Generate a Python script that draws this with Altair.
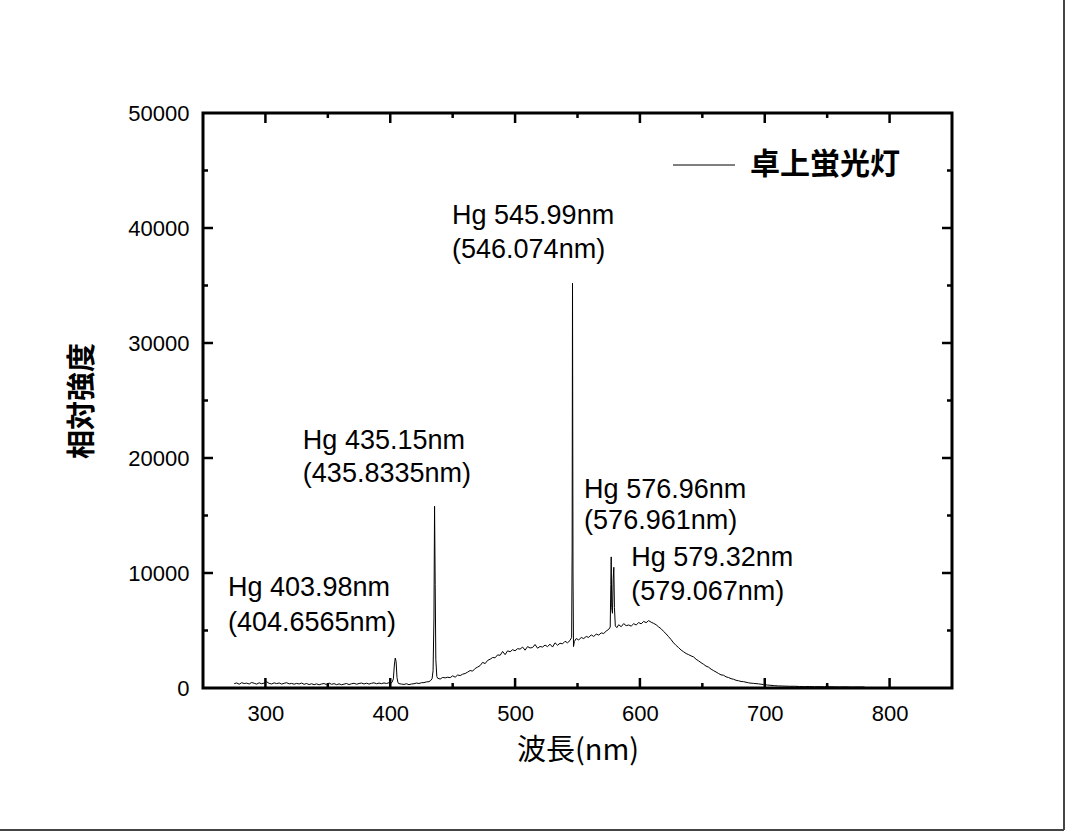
import altair as alt
import pandas as pd

# ---- spectrum data (wavelength nm, relative intensity) ----
wavelength = [
    275, 277, 279, 281, 283, 285, 287, 289, 291, 293, 295, 297, 299, 301, 303, 305, 307, 309,
    311, 313, 315, 317, 319, 321, 323, 325, 327, 329, 331, 333, 335, 337, 339, 341, 343, 345,
    347, 349, 351, 353, 355, 357, 359, 361, 363, 365, 367, 369, 371, 373, 375, 377, 379, 381,
    383, 385, 387, 389, 391, 393, 395, 397, 399, 400.5, 401.5, 402.5, 403.3, 404.0, 404.7,
    405.4, 406.2, 407, 409, 411, 413, 415, 417, 419, 421, 423, 425, 427, 429, 431, 432.5,
    433.5, 434.3, 435.0, 435.5, 436.0, 436.5, 437.3, 438, 440, 442, 444, 446, 448, 450, 452,
    454, 456, 458, 460, 462, 464, 466, 468, 470, 472, 474, 476, 478, 480, 482, 484, 486, 488,
    490, 492, 494, 496, 498, 500, 502, 504, 506, 508, 510, 512, 514, 516, 518, 520, 522, 524,
    526, 528, 530, 532, 534, 536, 538, 540, 542, 544, 545.3, 545.7, 546.0, 546.4, 546.8,
    547.5, 549, 551, 553, 555, 557, 559, 561, 563, 565, 567, 569, 571, 573, 575, 576.2, 576.7,
    577.0, 577.4, 578.0, 578.6, 579.1, 579.6, 580.3, 581.5, 583, 585, 587, 589, 591, 593, 595,
    597, 599, 601, 603, 605, 607, 609, 611, 613, 615, 617, 619, 621, 623, 625, 627, 629, 631,
    633, 635, 637, 639, 641, 643, 645, 647, 649, 651, 653, 655, 657, 659, 661, 663, 665, 667,
    669, 671, 673, 675, 677, 679, 681, 683, 685, 687, 689, 691, 693, 695, 697, 699, 702, 705,
    708, 711, 714, 717, 720, 724, 728, 732, 736, 740, 744, 748, 750, 752, 756, 760, 765, 770,
    775, 780,
]
intensity = [
    380, 440, 330, 460, 390, 420, 350, 480, 410, 340, 450, 370, 430, 540, 400, 350, 450, 380,
    440, 340, 410, 460, 360, 400, 330, 400, 350, 430, 320, 390, 300, 370, 290, 360, 280, 350,
    390, 290, 430, 320, 380, 290, 360, 280, 340, 390, 300, 370, 410, 330, 390, 430, 350, 420,
    340, 410, 450, 370, 430, 380, 440, 390, 460, 420, 500, 800, 2000, 2600, 2300,
    900, 450, 380, 340, 310, 370, 290, 350, 370, 430, 390, 460, 470, 530, 550, 660,
    800, 1500, 6000, 15800, 9000, 2500, 1000, 850, 780, 920, 880, 940, 900, 1060, 940,
    1130, 1080, 1200, 1260, 1380, 1520, 1470, 1700, 1820, 1950, 2230, 2120, 2400, 2500, 2650, 2630, 2880, 2840,
    3180, 2900, 3230, 3150, 3330, 3240, 3420, 3380, 3560, 3290, 3600, 3480, 3520, 3780, 3460, 3610, 3560, 3730,
    3600, 3810, 3560, 3930, 3720, 3890, 3840, 4060, 3930, 4130, 4400, 12000, 35200, 10000, 3600,
    4050, 4300, 4180, 4390, 4300, 4480, 4400, 4620, 4480, 4690, 4600, 4790, 4740, 4950, 5100, 5300, 9000,
    11400, 7000, 6500, 9500, 10500, 7000, 5400, 5250, 5500, 5330, 5600, 5420, 5480, 5380, 5590,
    5480, 5690, 5580, 5790, 5680, 5860, 5720, 5620, 5500, 5310, 5150, 4920, 4700, 4460, 4200, 3920, 3700, 3510,
    3300, 3150, 3000, 2900, 2790, 2700, 2500, 2360, 2200, 2060, 1900, 1810, 1640, 1510, 1390, 1260, 1140, 1110,
    970, 910, 810, 760, 670, 630, 570, 550, 500, 450, 420, 400, 380, 360, 330, 300, 260, 230,
    200, 180, 170, 160, 150, 150, 130, 120, 130, 110, 120, 100, 200, 110, 100, 90, 100, 80,
    90, 80,
]

# ---- annotations ----
ann_x = [270, 270, 330, 330, 449.5, 449.5, 555.3, 555.3, 593, 593]
ann_y = [8700, 5650, 21480, 18610, 41040, 38090, 17220, 14520, 11300, 8350]
ann_text = [
    "Hg 403.98nm", "(404.6565nm)",
    "Hg 435.15nm", "(435.8335nm)",
    "Hg 545.99nm", "(546.074nm)",
    "Hg 576.96nm", "(576.961nm)",
    "Hg 579.32nm", "(579.067nm)",
]

# ---- tick positions ----
x_major = [300, 400, 500, 600, 700, 800]
x_minor = [350, 450, 550, 650, 750]
y_major = [10000, 20000, 30000, 40000]
y_minor = [5000, 15000, 25000, 35000, 45000]
y_labels = [0, 10000, 20000, 30000, 40000, 50000]

W, H = 749, 575
FONT = "Liberation Sans, Noto Sans CJK JP"
CJK = "Noto Sans CJK JP"
XT = "波長(nm)"
YT = "相対強度"

spec = pd.DataFrame({"wl": wavelength, "I": intensity})
ann = pd.DataFrame({"wl": ann_x, "I": ann_y, "t": ann_text})

xs = alt.Scale(domain=[250, 850], nice=False, zero=False)
ys = alt.Scale(domain=[0, 50000], nice=False)

XAX = alt.Axis(values=x_major, format="d", labelPadding=15, titlePadding=12,
               titleFontWeight="normal")
YAX = alt.Axis(values=y_labels, format="d", labelPadding=14, titlePadding=30,
               titleFontWeight="bold")


def X(field):
    return alt.X(field, type="quantitative", scale=xs, title=XT, axis=XAX)


def Y(field):
    return alt.Y(field, type="quantitative", scale=ys, title=YT, axis=YAX)


line = alt.Chart(spec).mark_line(color="black", strokeWidth=1).encode(x=X("wl"), y=Y("I"))

text = alt.Chart(ann).mark_text(align="left", baseline="middle", fontSize=27,
                                font=FONT, color="black").encode(
    x=X("wl"), y=Y("I"), text="t:N")


def xticks(vals, length):
    d = pd.DataFrame({"wl": vals})
    bottom = alt.Chart(d).mark_rule(color="black", strokeWidth=2.5).encode(
        x=X("wl"), y=alt.value(H), y2=alt.value(H - length))
    top = alt.Chart(d).mark_rule(color="black", strokeWidth=2.5).encode(
        x=X("wl"), y=alt.value(0), y2=alt.value(length))
    return [bottom, top]


def yticks(vals, length):
    d = pd.DataFrame({"I": vals})
    left = alt.Chart(d).mark_rule(color="black", strokeWidth=2.5).encode(
        y=Y("I"), x=alt.value(0), x2=alt.value(length))
    right = alt.Chart(d).mark_rule(color="black", strokeWidth=2.5).encode(
        y=Y("I"), x=alt.value(W), x2=alt.value(W - length))
    return [left, right]


one = pd.DataFrame({"a": [0]})
legend_line = alt.Chart(one).mark_rule(color="black", strokeWidth=1).encode(
    x=alt.value(470), x2=alt.value(532), y=alt.value(52))
legend_text = alt.Chart(one).mark_text(align="left", baseline="middle", fontSize=30,
                                       font=CJK, fontWeight="bold", color="black").encode(
    x=alt.value(547), y=alt.value(52), text=alt.value("卓上蛍光灯"))

# page frame (right and bottom edges)
frame_r = alt.Chart(one).mark_rule(color="#444", strokeWidth=2).encode(
    x=alt.value(861), y=alt.value(-113), y2=alt.value(717))
frame_b = alt.Chart(one).mark_rule(color="#444", strokeWidth=2).encode(
    x=alt.value(-203), x2=alt.value(861), y=alt.value(717))

layers = [line, text] + xticks(x_major, 10) + xticks(x_minor, 5) + \
    yticks(y_major, 10) + yticks(y_minor, 5) + [legend_line, legend_text, frame_r, frame_b]

chart = alt.layer(*layers).properties(
    width=W, height=H,
    autosize=alt.AutoSizeParams(type="none"),
    padding={"left": 203, "top": 113, "right": 114, "bottom": 145},
    background="white",
).configure_view(stroke="black", strokeWidth=3).configure_axis(
    grid=False, ticks=False, domain=False,
    labelFontSize=22, labelFont=FONT, labelColor="black",
    titleFont=CJK, titleFontSize=29, titleColor="black",
)

chart.save("out.html", embed_options={"renderer": "svg", "actions": False})
